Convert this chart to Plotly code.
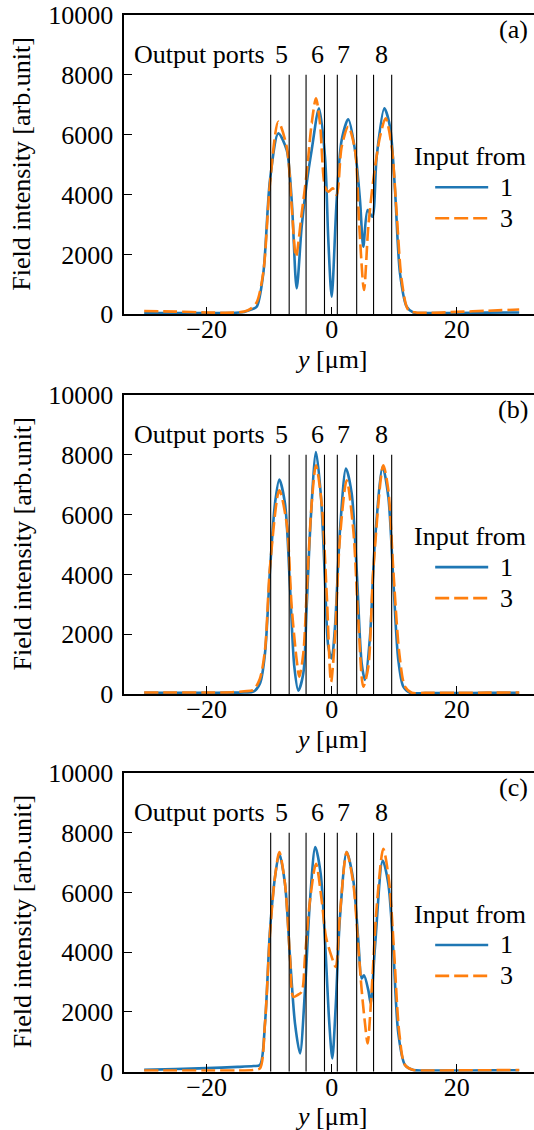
import plotly.graph_objects as go

# ---------------- data ----------------
# y position [um] and field intensity [arb.unit]
# Panel (a)
ya_in1 = [-30, -25, -20, -16, -14, -13, -12.0, -10.94, -9.87, -8.54, -7.2, -6.4, -5.6, -4.8, -4.0, -3.2,
          -2.03, -1.07, -0.54, 0.0, 0.8, 1.6, 2.66, 3.73, 4.53, 5.06, 5.75, 6.5, 7.2, 8.42, 9.33,
          10.13, 10.93, 12.0, 13.06, 15, 20, 25, 30]
Ia_in1 = [40, 40, 40, 45, 80, 150, 255, 1369, 4487, 6046, 5489, 3819, 868, 2928, 4376, 5489,
          6881, 5267, 2482, 589, 3819, 5823, 6514, 5489, 3819, 2260, 3485, 3262, 5267, 6881, 6269,
          4153, 1369, 255, 60, 40, 45, 55, 60]
ya_in3 = [-30, -25, -20, -16, -14, -13, -12.0, -10.94, -9.87, -8.54, -7.2, -6.4, -5.71, -4.8, -4.0, -3.2,
          -2.51, -1.87, -1.07, -0.54, 0.16, 0.8, 1.6, 2.66, 3.73, 4.42, 5.17, 5.86, 6.66, 7.73, 8.63,
          9.6, 10.4, 11.2, 12.26, 13.5, 16, 20, 25, 30]
Ia_in3 = [110, 90, 60, 55, 90, 180, 400, 1400, 4376, 6436, 5601, 3596, 1925, 3373, 4710, 6380,
          7216, 6380, 4264, 4097, 4209, 3986, 5601, 6269, 5489, 2928, 812, 2928, 4487, 5935, 6547,
          5601, 3373, 1146, 144, 60, 50, 80, 120, 160]

# Panel (b)
yb_in1 = [-30, -25, -20, -16, -14, -12.54, -11.47, -10.67, -9.87, -9.07, -8.38, -7.47, -6.67, -5.98, -5.34,
          -4.54, -4.0, -3.36, -2.51, -1.71, -1.07, -0.54, 0.0, 0.53, 1.33, 2.29, 3.2, 4.0, 4.8, 5.33,
          6.13, 6.93, 8.16, 9.06, 9.86, 10.66, 11.46, 12.53, 15, 20, 25, 30]
Ib_in1 = [40, 40, 40, 45, 55, 78, 356, 1359, 4143, 6370, 7172, 6370, 3586, 913, 111,
          690, 2918, 5813, 8096, 6593, 3809, 1581, 1192, 2250, 5479, 7540, 6704, 4143, 1025, 468,
          1915, 5145, 7595, 6593, 3809, 1136, 245, 44, 30, 30, 40, 40]
yb_in3 = [-30, -25, -20, -16, -14, -12.54, -11.5, -10.67, -9.87, -8.38, -7.2, -6.4, -5.6, -5.18, -4.54,
          -4.0, -3.2, -2.51, -1.6, -0.8, -0.1, 0.53, 1.33, 2.4, 3.46, 4.26, 5.06, 5.86, 6.66, 8.26,
          9.06, 9.86, 10.82, 11.73, 12.8, 15, 20, 25, 30]
Ib_in3 = [50, 50, 50, 60, 90, 134, 500, 1470, 4254, 6816, 5702, 2918, 1136, 579, 1359,
          3363, 6370, 7651, 6370, 3363, 400, 1915, 5256, 7150, 5479, 2472, 245, 913, 4143, 7651,
          6816, 4143, 1359, 245, 44, 40, 40, 45, 50]

# Panel (c)
yc_in1 = [-30, -25, -20, -15, -12.5, -11.47, -10.67, -9.87, -9.07, -8.38, -7.47, -6.67, -5.87, -5.07,
          -4.27, -3.47, -2.62, -1.76, -1.07, -0.38, 0.1, 0.64, 1.33, 2.4, 3.46, 4.26, 4.8, 5.17,
          5.86, 6.24, 6.93, 8.16, 9.06, 9.86, 10.66, 11.73, 13.06, 15, 20, 25, 30]
Ic_in1 = [60, 90, 120, 160, 190, 224, 1616, 4734, 6516, 7296, 6293, 3843, 1616, 614,
          2730, 5736, 7518, 6628, 4400, 1616, 447, 2173, 5180, 7351, 6405, 4400, 3119, 3231,
          2730, 2284, 4177, 7073, 6293, 4066, 1282, 224, 57, 40, 40, 45, 50]
yc_in3 = [-30, -25, -20, -15, -12.5, -11.47, -10.67, -9.87, -9.07, -8.38, -7.47, -6.67, -6.14, -5.5,
          -4.8, -4.27, -3.47, -2.51, -1.6, -0.91, 0.0, 0.64, 1.33, 2.4, 3.46, 4.26, 4.8, 5.33,
          5.75, 6.4, 7.2, 8.26, 9.17, 9.97, 10.82, 11.73, 13.06, 15, 20, 25, 30]
Ic_in3 = [40, 40, 40, 40, 60, 113, 1616, 4623, 6516, 7351, 6293, 3843, 2507, 2563,
          2674, 3843, 5736, 6961, 5736, 4511, 3843, 3509, 5291, 7351, 6293, 4177, 2730, 1616,
          948, 2730, 5514, 7463, 6405, 4066, 1282, 224, 57, 40, 45, 50, 55]

# Output-port boundaries [um]
port_edges = [-9.76, -6.8, -4.1, -1.15, 0.9, 4.0, 6.7, 9.6]
port_names = ["5", "6", "7", "8"]
port_label_x = [-8.1, -2.2, 1.9, 8.0]

x_ticks = [-20, 0, 20]
y_ticks = [0, 2000, 4000, 6000, 8000, 10000]
panel_tags = ["(a)", "(b)", "(c)"]
legend_title = "Input from"
series_names = ["1", "3"]

# ---------------- figure ----------------
W, H = 534, 1130
BLUE = "#1f77b4"
ORANGE = "#ff7f0e"
FONT = "Liberation Serif, Times New Roman, Times, serif"
FS = 26

panels = [
    (ya_in1, Ia_in1, ya_in3, Ia_in3),
    (yb_in1, Ib_in1, yb_in3, Ib_in3),
    (yc_in1, Ic_in1, yc_in3, Ic_in3),
]
# pixel top / bottom of each axes box
boxes = [(15, 314.3), (395, 694), (773, 1071.7)]
x_left_px = 124.3

fig = go.Figure()
annotations = []
shapes = []
txt_font = dict(family=FONT, size=FS, color="black")

for i, (x1, v1, x3, v3) in enumerate(panels):
    sfx = "" if i == 0 else str(i + 1)
    xa, ya = "x" + sfx, "y" + sfx
    fig.add_trace(go.Scatter(x=x1, y=v1, mode="lines", name=series_names[0],
                             line=dict(color=BLUE, width=2.6, shape="spline", smoothing=0.8),
                             xaxis=xa, yaxis=ya, showlegend=False))
    fig.add_trace(go.Scatter(x=x3, y=v3, mode="lines", name=series_names[1],
                             line=dict(color=ORANGE, width=2.6, dash="14px,5px", shape="spline", smoothing=0.8),
                             xaxis=xa, yaxis=ya, showlegend=False))
    top, bot = boxes[i]
    dom = [(H - bot) / H, (H - top) / H]
    fig.update_layout(**{
        "xaxis" + sfx: dict(domain=[x_left_px / W, 1], anchor=ya, range=[-33.18, 32.37],
                            showline=True, linecolor="black", linewidth=1.6, mirror=True,
                            ticks="inside", ticklen=8, tickwidth=1.4, tickcolor="black",
                            tickvals=x_ticks, tickfont=txt_font, showgrid=False, zeroline=False,
                            automargin=False, ticklabelstandoff=-9),
        "yaxis" + sfx: dict(domain=dom, anchor=xa, range=[0, 10000],
                            showline=True, linecolor="black", linewidth=1.6, mirror=False,
                            ticks="inside", ticklen=8, tickwidth=1.4, tickcolor="black",
                            tickvals=y_ticks, tickformat="d", tickfont=txt_font,
                            showgrid=False, zeroline=False, automargin=False,
                            ticklabelstandoff=4),
    })
    # port boundary lines
    for e in port_edges:
        shapes.append(dict(type="line", xref=xa, yref=ya, x0=e, x1=e, y0=0, y1=8000,
                           line=dict(color="black", width=1.1), layer="above"))
    # port labels
    annotations.append(dict(text="Output ports", xref=xa, yref=ya, x=-10.4, y=8667,
                            xanchor="right", yanchor="middle", showarrow=False, font=txt_font))
    for nm, px in zip(port_names, port_label_x):
        annotations.append(dict(text=nm, xref=xa, yref=ya, x=px, y=8667,
                                xanchor="center", yanchor="middle", showarrow=False, font=txt_font))
    # panel tag
    annotations.append(dict(text=panel_tags[i], xref="paper", yref=ya, x=530 / W, y=9500,
                            xanchor="right", yanchor="middle", showarrow=False, font=txt_font))
    # legend (drawn in axes)
    annotations.append(dict(text=legend_title, xref=xa, yref=ya, x=12.8, y=5266,
                            xanchor="left", yanchor="middle", showarrow=False, font=txt_font))
    for nm, yy, col, dash in [(series_names[0], 4243, BLUE, "solid"),
                              (series_names[1], 3207, ORANGE, "14px,5px")]:
        shapes.append(dict(type="line", xref=xa, yref=ya, x0=16.56, x1=25.04, y0=yy, y1=yy,
                           line=dict(color=col, width=2.6, dash=dash)))
        annotations.append(dict(text=nm, xref=xa, yref=ya, x=26.6, y=yy,
                                xanchor="left", yanchor="middle", showarrow=False, font=txt_font))
    # axis titles
    annotations.append(dict(text="<i>y</i> [μm]", xref=xa, yref=ya + " domain", x=0, y=0,
                            xanchor="center", yanchor="middle", yshift=-45, showarrow=False,
                            font=txt_font))
    annotations.append(dict(text="Field intensity [arb.unit]", xref="paper", yref=ya + " domain",
                            x=22 / W, y=0.5, xanchor="center", yanchor="middle", textangle=-90,
                            showarrow=False, font=txt_font))

fig.update_layout(width=W, height=H, margin=dict(l=0, r=0, t=0, b=0, autoexpand=False),
                  paper_bgcolor="white", plot_bgcolor="white",
                  annotations=annotations, shapes=shapes, showlegend=False,
                  font=txt_font)

fig.write_html("out.html", config={"displayModeBar": False},
               post_script="document.body.style.margin='0px';document.body.style.overflow='hidden';")
